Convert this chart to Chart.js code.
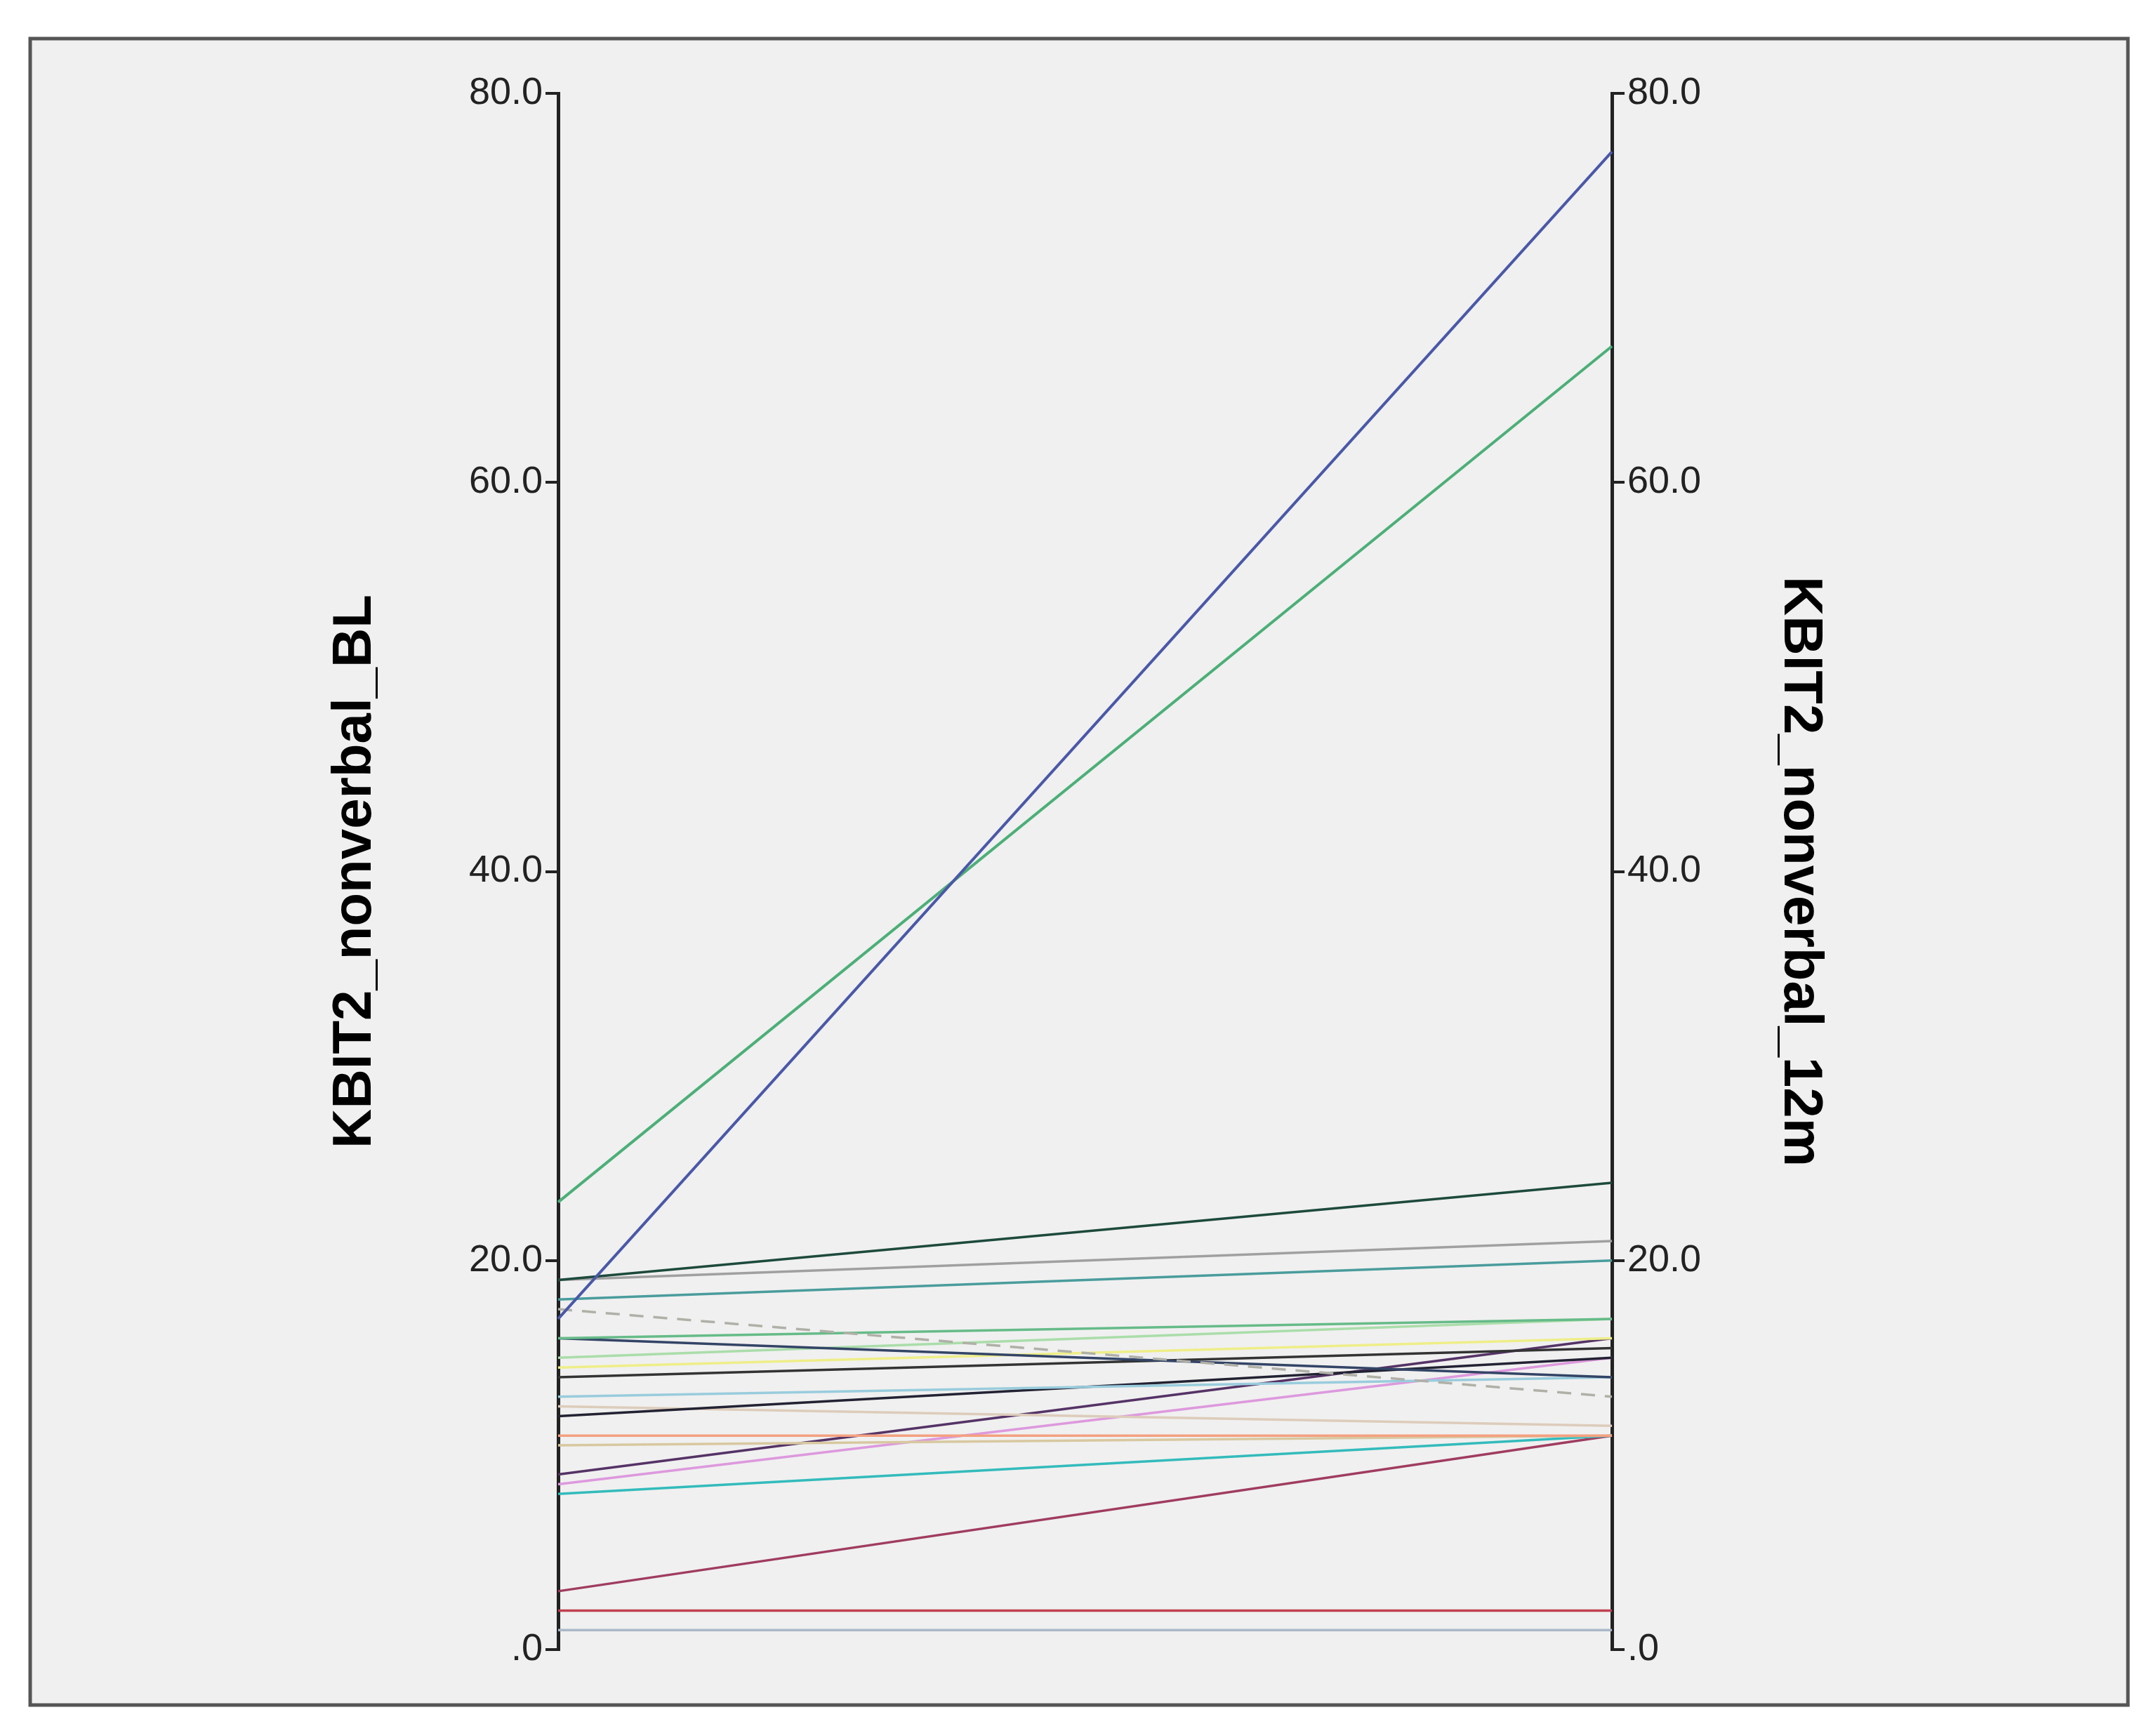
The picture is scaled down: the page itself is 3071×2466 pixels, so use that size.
<!DOCTYPE html>
<html><head><meta charset="utf-8">
<script src="https://cdn.jsdelivr.net/npm/chart.js@4"></script>
<style>html,body{margin:0;padding:0;background:#fff}canvas{display:block}</style>
</head><body>
<div style="width:3071px;height:2466px"><canvas id="c"></canvas></div>
<script>
const timepoints = ['KBIT2_nonverbal_BL','KBIT2_nonverbal_12m'];
const yTicks = [0,20,40,60,80];
const baseline = [17,23,19,19,18,17.5,16,16,15,14.5,14,13,12,12.5,11,10.5,9,8.5,8,3,2,1];
const month12  = [77,67,24,21,20,13,17,14,17,16,15.5,14,15,11.5,11,11,16,15,11,11,2,1];
const colors = ['#4a58a8','#4caf78','#1d4a3c','#a0a0a0','#4a9c9c','#b0b0a8','#66bb88','#334466','#aaddaa','#eeee88','#333333','#99ccdd','#222233','#ddccbb','#f4a080','#d8c8a0','#553366','#dd99dd','#33bbbb','#a03c60','#c04050','#aab8c8'];
const dashed = [5];
const datasets = baseline.map((b,i)=>({data:[b,month12[i]],borderColor:colors[i],borderWidth:i<2?4:3.5,pointRadius:0,fill:false,tension:0,borderDash:dashed.includes(i)?[20,14]:[]}));
const frame = {id:'frame',beforeDraw(ch){const c=ch.ctx;c.save();c.fillStyle='#f0f0f0';c.fillRect(43,55,2988,2374);c.strokeStyle='#555';c.lineWidth=5;c.strokeRect(43,55,2988,2374);c.restore();}};
const fmt = v => v===0?'.0':v.toFixed(1);
const axis = (pos,title,w) => ({position:pos,min:0,max:80,
  afterBuildTicks:a=>{a.ticks=yTicks.map(v=>({value:v}));},
  afterFit:a=>{a.width=w;},
  border:{display:true,color:'#222',width:5},
  grid:{drawOnChartArea:false,drawTicks:true,tickLength:18,color:'#222',lineWidth:4},
  ticks:{callback:fmt,color:'#222',font:{family:'Liberation Sans',size:54},padding:4},
  title:{display:true,text:title,color:'#000',font:{family:'Liberation Sans',size:78,weight:'bold'},padding:0}});
new Chart(document.getElementById('c'),{type:'line',
  data:{labels:['BL','12m'],datasets},
  options:{responsive:true,maintainAspectRatio:false,animation:false,
    layout:{padding:{left:460,right:461,top:133,bottom:116}},
    plugins:{legend:{display:false},tooltip:{enabled:false}},
    scales:{x:{display:false,offset:false},
      y:axis('left',timepoints[0],335),
      y2:axis('right',timepoints[1],314)}},
  plugins:[frame]});
</script></body></html>
